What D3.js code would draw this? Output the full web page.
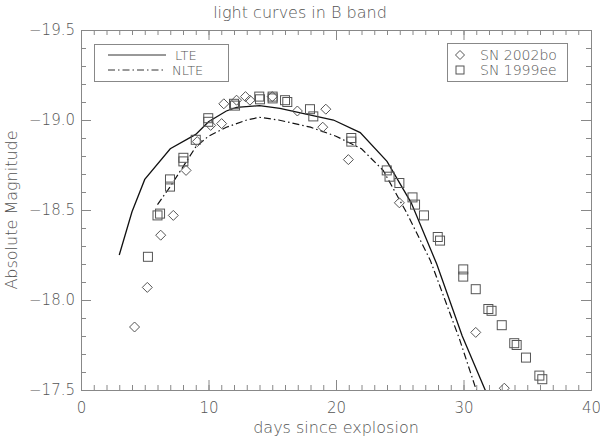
<!DOCTYPE html>
<html><head><meta charset="utf-8">
<script src="https://cdn.jsdelivr.net/npm/d3@7"></script>
<style>
body{margin:0;background:#fff;}
text{font-family:"DejaVu Sans",sans-serif;font-weight:200;fill:#555;}
</style></head>
<body><svg id="c" width="600" height="437"></svg>
<script>
// LTE model curve [day, mag]
const lteDays = [3,4,5,7,9,10,11.4,12.2,14,15.6,19.8,21.9,24,25.9,27.9,29.9,31.7,32.5];
const lteMags = [-18.25,-18.49,-18.67,-18.84,-18.92,-18.99,-19.05,-19.07,-19.08,-19.065,-19.0,-18.93,-18.77,-18.54,-18.20,-17.80,-17.5,-17.35];
// NLTE model curve
const nlteDays = [6,7,9,10,11.4,13,14,15.5,18,20,22,23.7,25.5,27.4,29.7,31,32];
const nlteMags = [-18.53,-18.63,-18.85,-18.91,-18.96,-19.0,-19.015,-19.0,-18.96,-18.91,-18.84,-18.72,-18.49,-18.22,-17.78,-17.5,-17.3];
// SN 2002bo (diamonds)
const bo02Days = [4.2,5.2,6.25,7.24,8.24,9.12,10.17,11.03,11.2,12.2,12.9,13.25,15.0,16.97,18.96,19.2,20.97,24.97,30.96,33.2];
const bo02Mags = [-17.85,-18.07,-18.36,-18.47,-18.72,-18.88,-18.97,-18.98,-19.09,-19.11,-19.13,-19.11,-19.13,-19.05,-18.96,-19.06,-18.78,-18.54,-17.82,-17.51];
// SN 1999ee (squares)
const ee99Days = [5.25,6.0,6.2,6.98,6.98,8.03,8.03,9.0,9.98,9.98,12.0,12.08,13.98,14.04,15.03,15.03,16.0,16.18,17.96,18.22,21.2,21.2,23.98,24.2,24.97,26.0,26.2,26.9,27.98,28.16,29.98,29.98,30.96,31.95,32.2,33.0,33.98,34.17,34.9,35.95,36.18];
const ee99Mags = [-18.24,-18.47,-18.48,-18.67,-18.63,-18.79,-18.77,-18.89,-19.01,-18.99,-19.09,-19.08,-19.13,-19.115,-19.13,-19.12,-19.11,-19.10,-19.06,-19.02,-18.90,-18.88,-18.72,-18.685,-18.65,-18.57,-18.53,-18.47,-18.35,-18.33,-18.17,-18.13,-18.06,-17.95,-17.94,-17.86,-17.76,-17.75,-17.68,-17.58,-17.56];
const xMajor = [0,10,20,30,40];
const yMajor = [-19.5,-19.0,-18.5,-18.0,-17.5];

const svg = d3.select("#c");
const L=81,R=591,T=30,B=390;
const x = d3.scaleLinear().domain([0,40]).range([L,R]);
const y = d3.scaleLinear().domain([-19.5,-17.5]).range([T,B]);
const axCol="#888";

svg.append("defs").append("clipPath").attr("id","clip")
  .append("rect").attr("x",L).attr("y",T).attr("width",R-L).attr("height",B-T);

const fmtY = d=>"\u2212"+Math.abs(d).toFixed(1);
function styleAxis(g){g.select(".domain").attr("stroke",axCol);g.selectAll("line").attr("stroke",axCol);
  g.selectAll("text").attr("font-size",15).attr("fill","#555").style("font-family","DejaVu Sans").style("font-weight","200");}

// bottom
svg.append("g").attr("transform",`translate(0,${B})`)
  .call(d3.axisBottom(x).tickValues(d3.range(0,41,1)).tickSize(-5).tickFormat("").tickSizeOuter(0)).call(styleAxis);
svg.append("g").attr("transform",`translate(0,${B})`)
  .call(d3.axisBottom(x).tickValues(xMajor).tickSize(-10).tickPadding(12).tickFormat(d3.format("d")).tickSizeOuter(0)).call(styleAxis);
// top
svg.append("g").attr("transform",`translate(0,${T})`)
  .call(d3.axisTop(x).tickValues(d3.range(0,41,1)).tickSize(-5).tickFormat("").tickSizeOuter(0)).call(styleAxis);
svg.append("g").attr("transform",`translate(0,${T})`)
  .call(d3.axisTop(x).tickValues(xMajor).tickSize(-10).tickFormat("").tickSizeOuter(0)).call(styleAxis);
// left
const yMinor = d3.range(0,21).map(i=>-19.5+i*0.1);
svg.append("g").attr("transform",`translate(${L},0)`)
  .call(d3.axisLeft(y).tickValues(yMinor).tickSize(-5).tickFormat("").tickSizeOuter(0)).call(styleAxis);
svg.append("g").attr("transform",`translate(${L},0)`)
  .call(d3.axisLeft(y).tickValues(yMajor).tickSize(-10).tickPadding(6).tickFormat(fmtY).tickSizeOuter(0)).call(styleAxis);
// right
svg.append("g").attr("transform",`translate(${R},0)`)
  .call(d3.axisRight(y).tickValues(yMinor).tickSize(-5).tickFormat("").tickSizeOuter(0)).call(styleAxis);
svg.append("g").attr("transform",`translate(${R},0)`)
  .call(d3.axisRight(y).tickValues(yMajor).tickSize(-10).tickFormat("").tickSizeOuter(0)).call(styleAxis);

// titles
svg.append("text").attr("x",300).attr("y",18).attr("text-anchor","middle").attr("font-size",16).text("light curves in B band");
svg.append("text").attr("x",336).attr("y",433).attr("text-anchor","middle").attr("font-size",16).text("days since explosion");
svg.append("text").attr("transform","translate(17,210) rotate(-90)").attr("text-anchor","middle").attr("font-size",16).text("Absolute Magnitude");

const plot = svg.append("g").attr("clip-path","url(#clip)");
const line = d3.line().x(d=>x(d[0])).y(d=>y(d[1]));
plot.append("path").datum(d3.zip(lteDays,lteMags)).attr("d",line)
  .attr("fill","none").attr("stroke","#111").attr("stroke-width",1.3);
plot.append("path").datum(d3.zip(nlteDays,nlteMags)).attr("d",line)
  .attr("fill","none").attr("stroke","#111").attr("stroke-width",1.2).attr("stroke-dasharray","7,3,1.5,3");

const mkCol="#555";
const diamond = (cx,cy,r)=>`M${cx},${cy-r}L${cx+r},${cy}L${cx},${cy+r}L${cx-r},${cy}Z`;
plot.selectAll(".sq").data(d3.zip(ee99Days,ee99Mags)).join("rect")
  .attr("x",d=>x(d[0])-4.5).attr("y",d=>y(d[1])-4.5).attr("width",9).attr("height",9)
  .attr("fill","none").attr("stroke",mkCol).attr("stroke-width",1);
plot.selectAll(".dm").data(d3.zip(bo02Days,bo02Mags)).join("path")
  .attr("d",d=>diamond(x(d[0]),y(d[1]),5))
  .attr("fill","none").attr("stroke",mkCol).attr("stroke-width",1);

// left legend
svg.append("rect").attr("x",94.5).attr("y",44.5).attr("width",134).attr("height",37).attr("fill","none").attr("stroke",axCol);
svg.append("line").attr("x1",108).attr("x2",166).attr("y1",55).attr("y2",55).attr("stroke","#333").attr("stroke-width",1);
svg.append("line").attr("x1",108).attr("x2",166).attr("y1",70).attr("y2",70).attr("stroke","#333").attr("stroke-width",1).attr("stroke-dasharray","7,3,1.5,3");
svg.append("text").attr("x",175).attr("y",60).attr("font-size",13).text("LTE");
svg.append("text").attr("x",172).attr("y",75).attr("font-size",13).text("NLTE");
// right legend
svg.append("rect").attr("x",447.5).attr("y",43.5).attr("width",120).attr("height",38).attr("fill","none").attr("stroke",axCol);
svg.append("path").attr("d",diamond(460,55,4.5)).attr("fill","none").attr("stroke",mkCol);
svg.append("rect").attr("x",456).attr("y",66).attr("width",8).attr("height",8).attr("fill","none").attr("stroke",mkCol);
svg.append("text").attr("x",480).attr("y",60).attr("font-size",14).text("SN 2002bo");
svg.append("text").attr("x",480).attr("y",75).attr("font-size",14).text("SN 1999ee");
</script></body></html>
